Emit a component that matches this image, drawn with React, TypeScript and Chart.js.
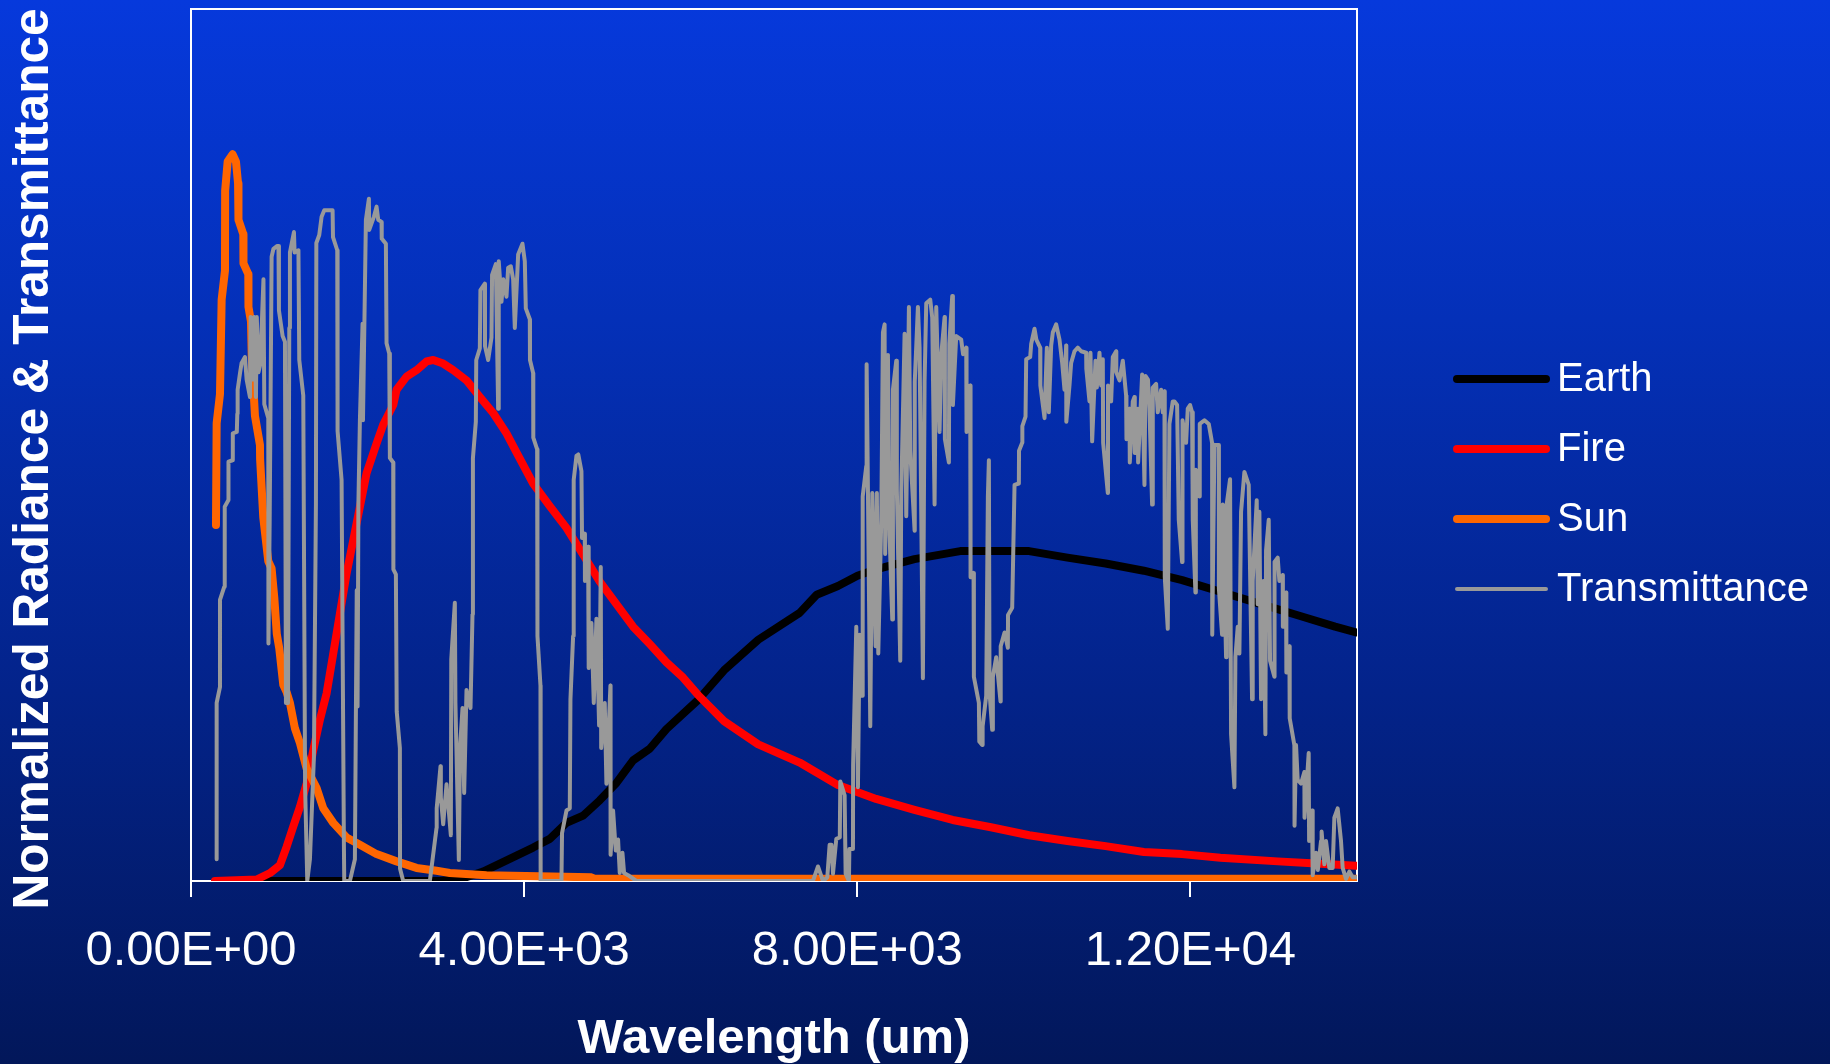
import React, { useEffect, useRef } from 'react';
import { Chart, registerables } from 'chart.js';

Chart.register(...registerables);

// ---------- data (wavelength, normalized value) ----------
const seriesNames = ['Earth', 'Fire', 'Sun', 'Transmittance'];
const xTicks = [0, 4000, 8000, 12000];
const xTitle = 'Wavelength (um)';
const yTitle = 'Normalized Radiance & Transmittance';

const earth: [number, number][] = [
  [300, 0], [3000, 0], [3300, 0.005], [3508, 0.013], [3908, 0.035], [4108, 0.046], [4308, 0.058],
  [4508, 0.08], [4708, 0.09], [4908, 0.111], [5108, 0.135], [5308, 0.166], [5508, 0.182], [5708, 0.209],
  [6088, 0.249], [6400, 0.29], [6811, 0.332], [7308, 0.369], [7512, 0.394], [7768, 0.406], [8002, 0.42],
  [8226, 0.429], [8686, 0.443], [9236, 0.454], [10063, 0.454], [10523, 0.445], [10982, 0.437],
  [11441, 0.427], [11900, 0.414], [12360, 0.398], [12819, 0.382], [13278, 0.366], [13737, 0.35], [13990, 0.342],
];

const fire: [number, number][] = [
  [288, 0], [788, 0.002], [948, 0.011], [1068, 0.022], [1148, 0.047], [1228, 0.075], [1308, 0.102],
  [1388, 0.134], [1468, 0.18], [1548, 0.222], [1628, 0.258], [1708, 0.313], [1788, 0.368], [1868, 0.423],
  [1948, 0.469], [2028, 0.515], [2108, 0.561], [2228, 0.602], [2308, 0.628], [2428, 0.655], [2468, 0.676],
  [2588, 0.694], [2708, 0.703], [2828, 0.715], [2908, 0.717], [3028, 0.712], [3148, 0.703], [3308, 0.689],
  [3468, 0.666], [3628, 0.644], [3788, 0.616], [3908, 0.59], [4108, 0.547], [4308, 0.516], [4508, 0.486],
  [4708, 0.449], [4908, 0.412], [5108, 0.381], [5308, 0.35], [5508, 0.326], [5708, 0.301], [5908, 0.28],
  [6088, 0.256], [6400, 0.22], [6811, 0.188], [7308, 0.163], [7768, 0.132], [8226, 0.113], [8686, 0.098],
  [9145, 0.084], [9605, 0.074], [10063, 0.063], [10523, 0.055], [10982, 0.048], [11441, 0.04],
  [11900, 0.037], [12360, 0.032], [13049, 0.027], [13508, 0.024], [13990, 0.021],
];

const sun: [number, number][] = [
  [300, 0.49], [308, 0.63], [348, 0.67], [368, 0.8], [408, 0.84], [410, 0.95], [440, 0.99], [500, 1.0],
  [540, 0.99], [565, 0.96], [570, 0.91], [628, 0.89], [630, 0.85], [688, 0.835], [690, 0.79], [720, 0.77],
  [730, 0.72], [768, 0.64], [828, 0.6], [830, 0.58], [868, 0.5], [888, 0.48], [928, 0.44], [968, 0.43],
  [1000, 0.39], [1030, 0.34], [1060, 0.32], [1108, 0.27], [1148, 0.26], [1188, 0.245], [1248, 0.21],
  [1308, 0.19], [1388, 0.155], [1508, 0.128], [1588, 0.1], [1708, 0.08], [1868, 0.06], [2028, 0.05],
  [2228, 0.037], [2468, 0.027], [2708, 0.018], [2948, 0.014], [3108, 0.011], [3548, 0.008], [4808, 0.005],
  [4850, 0.003], [14000, 0.003],
];

const transmittance: [number, number][] = [
  [308, 0.03], [308, 0.245], [348, 0.267], [348, 0.387], [400, 0.405], [405, 0.515], [448, 0.524], [450, 0.577],
  [500, 0.579], [502, 0.616], [550, 0.618], [556, 0.643], [560, 0.676], [590, 0.7], [608, 0.713], [648, 0.721],
  [668, 0.69], [708, 0.666], [716, 0.776], [740, 0.69], [760, 0.776], [780, 0.666], [790, 0.776], [810, 0.7],
  [830, 0.71], [848, 0.76], [870, 0.828], [880, 0.656], [928, 0.637], [930, 0.327], [945, 0.5], [968, 0.859],
  [990, 0.87], [1036, 0.874], [1050, 0.874], [1056, 0.785], [1100, 0.75], [1128, 0.742], [1140, 0.245],
  [1165, 0.245], [1180, 0.761], [1188, 0.865], [1236, 0.893], [1244, 0.865], [1290, 0.868], [1300, 0.717],
  [1348, 0.668], [1370, 0.13], [1396, 0], [1428, 0.03], [1476, 0.171], [1500, 0.521], [1505, 0.878],
  [1540, 0.889], [1568, 0.914], [1600, 0.923], [1700, 0.923], [1705, 0.886], [1756, 0.868], [1760, 0.619],
  [1808, 0.552], [1836, 0.048], [1840, 0], [1908, 0], [1968, 0.03], [1990, 0.4], [2000, 0.24], [2010, 0.52],
  [2028, 0.634], [2060, 0.767], [2065, 0.634], [2100, 0.91], [2136, 0.939], [2140, 0.896], [2196, 0.914],
  [2228, 0.928], [2248, 0.91], [2288, 0.907], [2290, 0.884], [2340, 0.877], [2348, 0.74], [2380, 0.726],
  [2388, 0.582], [2428, 0.576], [2430, 0.429], [2460, 0.422], [2470, 0.233], [2508, 0.183], [2510, 0.017],
  [2548, 0], [2868, 0], [2948, 0.073], [2950, 0.1], [2996, 0.158], [3000, 0.115], [3028, 0.078], [3068, 0.133],
  [3100, 0.09], [3120, 0.063], [3125, 0.305], [3168, 0.383], [3175, 0.245], [3216, 0.029], [3230, 0.183],
  [3260, 0.238], [3280, 0.121], [3308, 0.263], [3356, 0.238], [3380, 0.367], [3385, 0.582], [3420, 0.632],
  [3425, 0.717], [3468, 0.733], [3475, 0.813], [3528, 0.822], [3530, 0.736], [3568, 0.717], [3608, 0.748],
  [3615, 0.834], [3660, 0.849], [3688, 0.65], [3695, 0.853], [3728, 0.797], [3750, 0.828], [3788, 0.804],
  [3808, 0.844], [3840, 0.846], [3868, 0.828], [3888, 0.761], [3905, 0.804], [3928, 0.862], [3980, 0.877],
  [4008, 0.853], [4020, 0.788], [4068, 0.773], [4070, 0.717], [4108, 0.699], [4110, 0.61], [4156, 0.594],
  [4160, 0.337], [4196, 0.269], [4198, 0], [4448, 0], [4455, 0.066], [4508, 0.097], [4548, 0.1], [4556, 0.25],
  [4588, 0.337], [4595, 0.552], [4628, 0.585], [4650, 0.587], [4688, 0.564], [4695, 0.472], [4728, 0.478],
  [4730, 0.413], [4768, 0.46], [4775, 0.293], [4808, 0.355], [4836, 0.245], [4868, 0.361], [4900, 0.214],
  [4920, 0.432], [4925, 0.183], [4968, 0.245], [4988, 0.134], [5036, 0.269], [5038, 0.036], [5068, 0.097],
  [5100, 0.042], [5128, 0.057], [5148, 0.011], [5180, 0.039], [5200, 0.011], [5248, 0.008], [5348, 0],
  [7468, 0], [7528, 0.02], [7588, 0], [7640, 0.005], [7668, 0.05], [7690, 0.05], [7708, 0.01], [7748, 0.058],
  [7790, 0.06], [7796, 0.137], [7848, 0.118], [7860, 0.01], [7900, 0], [7905, 0.044], [7948, 0.044],
  [7950, 0.16], [7988, 0.35], [8008, 0.129], [8028, 0.339], [8060, 0.255], [8065, 0.529], [8108, 0.571],
  [8112, 0.711], [8125, 0.571], [8156, 0.213], [8180, 0.534], [8220, 0.323], [8235, 0.534], [8252, 0.313],
  [8288, 0.497], [8308, 0.755], [8328, 0.766], [8335, 0.45], [8368, 0.724], [8388, 0.476], [8420, 0.36],
  [8428, 0.676], [8468, 0.716], [8475, 0.539], [8516, 0.303], [8528, 0.534], [8568, 0.753], [8588, 0.502],
  [8620, 0.79], [8636, 0.592], [8688, 0.482], [8690, 0.687], [8728, 0.79], [8748, 0.734], [8788, 0.279],
  [8808, 0.687], [8828, 0.795], [8876, 0.8], [8900, 0.775], [8928, 0.518], [8948, 0.79], [8988, 0.618],
  [9008, 0.724], [9048, 0.776], [9052, 0.608], [9100, 0.576], [9105, 0.739], [9140, 0.805], [9148, 0.655],
  [9188, 0.75], [9248, 0.745], [9270, 0.725], [9308, 0.734], [9312, 0.618], [9356, 0.682], [9360, 0.418],
  [9396, 0.424], [9400, 0.281], [9460, 0.245], [9465, 0.192], [9500, 0.187], [9505, 0.213], [9548, 0.255],
  [9568, 0.529], [9580, 0.579], [9588, 0.26], [9620, 0.208], [9628, 0.281], [9668, 0.308], [9720, 0.247],
  [9722, 0.323], [9768, 0.342], [9808, 0.321], [9810, 0.366], [9860, 0.376], [9888, 0.545], [9940, 0.547],
  [9942, 0.592], [9980, 0.603], [9982, 0.626], [10020, 0.639], [10028, 0.718], [10076, 0.721], [10088, 0.739],
  [10128, 0.76], [10150, 0.745], [10196, 0.734], [10198, 0.682], [10248, 0.637], [10276, 0.734], [10300, 0.645],
  [10328, 0.737], [10348, 0.755], [10388, 0.766], [10428, 0.745], [10460, 0.713], [10488, 0.676], [10508, 0.737],
  [10510, 0.632], [10548, 0.682], [10568, 0.713], [10608, 0.729], [10648, 0.734], [10688, 0.729], [10748, 0.727],
  [10750, 0.705], [10788, 0.66], [10800, 0.727], [10820, 0.605], [10860, 0.716], [10876, 0.679], [10908, 0.727],
  [10928, 0.682], [10948, 0.718], [10952, 0.603], [11008, 0.534], [11010, 0.682], [11048, 0.66], [11068, 0.721],
  [11108, 0.729], [11110, 0.7], [11148, 0.689], [11188, 0.716], [11228, 0.668], [11232, 0.608], [11268, 0.65],
  [11272, 0.576], [11308, 0.66], [11328, 0.666], [11332, 0.589], [11368, 0.65], [11372, 0.576], [11420, 0.697],
  [11448, 0.545], [11460, 0.695], [11490, 0.69], [11508, 0.65], [11540, 0.518], [11548, 0.679], [11588, 0.684],
  [11608, 0.645], [11648, 0.676], [11668, 0.645], [11688, 0.674], [11692, 0.418], [11728, 0.347], [11748, 0.629],
  [11788, 0.66], [11808, 0.66], [11840, 0.655], [11860, 0.497], [11900, 0.439], [11905, 0.634], [11948, 0.603],
  [11968, 0.65], [11996, 0.655], [12020, 0.645], [12028, 0.497], [12060, 0.397], [12065, 0.566], [12108, 0.529],
  [12112, 0.629], [12168, 0.634], [12220, 0.629], [12260, 0.603], [12262, 0.339], [12288, 0.6], [12340, 0.6],
  [12342, 0.402], [12380, 0.339], [12388, 0.518], [12428, 0.308], [12435, 0.518], [12476, 0.553], [12488, 0.202],
  [12528, 0.129], [12540, 0.308], [12568, 0.35], [12588, 0.313], [12608, 0.508], [12648, 0.563], [12700, 0.545],
  [12740, 0.25], [12748, 0.413], [12796, 0.524], [12808, 0.381], [12828, 0.508], [12848, 0.25], [12876, 0.413],
  [12900, 0.202], [12908, 0.455], [12940, 0.497], [12956, 0.303], [13008, 0.281], [13010, 0.439], [13048, 0.445],
  [13068, 0.413], [13108, 0.421], [13110, 0.35], [13148, 0.397], [13152, 0.287], [13188, 0.323], [13192, 0.224],
  [13248, 0.187], [13250, 0.076], [13268, 0.187], [13288, 0.139], [13328, 0.134], [13368, 0.15], [13370, 0.087],
  [13420, 0.176], [13425, 0.055], [13460, 0.097], [13468, 0.008], [13508, 0.039], [13530, 0.015], [13568, 0.055],
  [13575, 0.068], [13608, 0.023], [13628, 0.055], [13668, 0.018], [13708, 0.018], [13728, 0.087], [13768, 0.1],
  [13808, 0.055], [13828, 0.018], [13868, 0.003], [13908, 0.013], [13948, 0.005], [13988, 0.005],
];

const seriesData = [earth, fire, sun, transmittance];
const seriesColors = ['#000000', '#FF0000', '#FF6600', '#999999'];
const seriesWidths = [8, 8, 8, 4];
const seriesOrder = [3, 2, 1, 0];

function fmtExp(v: number): string {
  if (v === 0) return '0.00E+00';
  const e = Math.floor(Math.log10(Math.abs(v)));
  const m = v / Math.pow(10, e);
  const sign = e < 0 ? '-' : '+';
  return m.toFixed(2) + 'E' + sign + String(Math.abs(e)).padStart(2, '0');
}

const decorPlugin = {
  id: 'decor',
  beforeDatasetsDraw(chart: any) {
    const { ctx, chartArea: a } = chart;
    ctx.save();
    ctx.strokeStyle = '#ffffff';
    ctx.lineWidth = 2;
    ctx.strokeRect(a.left, a.top, a.right - a.left, a.bottom - a.top);
    ctx.restore();
  },
  afterDraw(chart: any) {
    const { ctx } = chart;
    // rotated y axis title
    ctx.save();
    ctx.translate(34, 459);
    ctx.rotate(-Math.PI / 2);
    ctx.font = 'bold 49.6px "Liberation Sans", Arial, sans-serif';
    ctx.fillStyle = '#ffffff';
    ctx.textAlign = 'center';
    ctx.textBaseline = 'middle';
    ctx.fillText(yTitle, 0, 0);
    ctx.restore();

    // legend
    const rowY = [379, 449, 519, 589];
    chart.data.datasets.forEach((ds: any, i: number) => {
      const y = rowY[i];
      ctx.save();
      ctx.strokeStyle = ds.borderColor;
      ctx.lineWidth = ds.borderWidth;
      ctx.lineCap = 'round';
      ctx.beginPath();
      ctx.moveTo(1457, y);
      ctx.lineTo(1546, y);
      ctx.stroke();
      ctx.font = '40px "Liberation Sans", Arial, sans-serif';
      ctx.fillStyle = '#ffffff';
      ctx.textAlign = 'left';
      ctx.textBaseline = 'middle';
      ctx.fillText(ds.label, 1557, y + 1);
      ctx.restore();
    });
  },
};

export default function App() {
  const canvasRef = useRef<HTMLCanvasElement | null>(null);

  useEffect(() => {
    const canvas = canvasRef.current;
    if (!canvas) return;
    const chart = new Chart(canvas, {
      type: 'line',
      data: {
        datasets: seriesNames.map((name, i) => ({
          label: name,
          data: seriesData[i].map(([x, y]) => ({ x, y })),
          borderColor: seriesColors[i],
          backgroundColor: seriesColors[i],
          borderWidth: seriesWidths[i],
          borderJoinStyle: 'round',
          borderCapStyle: 'round',
          pointRadius: 0,
          tension: 0,
          fill: false,
          order: seriesOrder[i],
        })),
      },
      options: {
        animation: false,
        responsive: false,
        devicePixelRatio: 1,
        layout: { padding: { left: 191, top: 9, right: 473, bottom: 0 } },
        plugins: { legend: { display: false }, tooltip: { enabled: false } },
        scales: {
          x: {
            type: 'linear',
            position: 'bottom',
            min: 0,
            max: 14000,
            afterBuildTicks: (s: any) => {
              s.ticks = xTicks.map((v) => ({ value: v }));
            },
            afterFit: (s: any) => {
              s.height = 183;
            },
            grid: {
              display: true,
              drawOnChartArea: false,
              drawTicks: true,
              tickLength: 16,
              color: '#ffffff',
              lineWidth: 2,
            },
            border: { display: true, color: '#ffffff', width: 2 },
            ticks: {
              color: '#ffffff',
              font: { family: '"Liberation Sans", Arial, sans-serif', size: 49 },
              padding: 25,
              maxRotation: 0,
              autoSkip: false,
              callback: (v: any) => fmtExp(Number(v)),
            },
            title: {
              display: true,
              text: xTitle,
              color: '#ffffff',
              font: { family: '"Liberation Sans", Arial, sans-serif', size: 49, weight: 'bold', lineHeight: 1.0 },
              padding: { top: 0, bottom: 0 },
            },
          },
          y: { display: false, min: 0, max: 1.2 },
        },
      },
      plugins: [decorPlugin],
    } as any);
    return () => chart.destroy();
  }, []);

  return (
    <div
      style={{
        position: 'fixed',
        left: 0,
        top: 0,
        width: 1830,
        height: 1064,
        background: 'linear-gradient(to bottom, #0639DC 0%, #0430B8 30%, #03238A 65%, #02175A 100%)',
      }}
    >
      <canvas ref={canvasRef} width={1830} height={1064} style={{ display: 'block' }} />
    </div>
  );
}
